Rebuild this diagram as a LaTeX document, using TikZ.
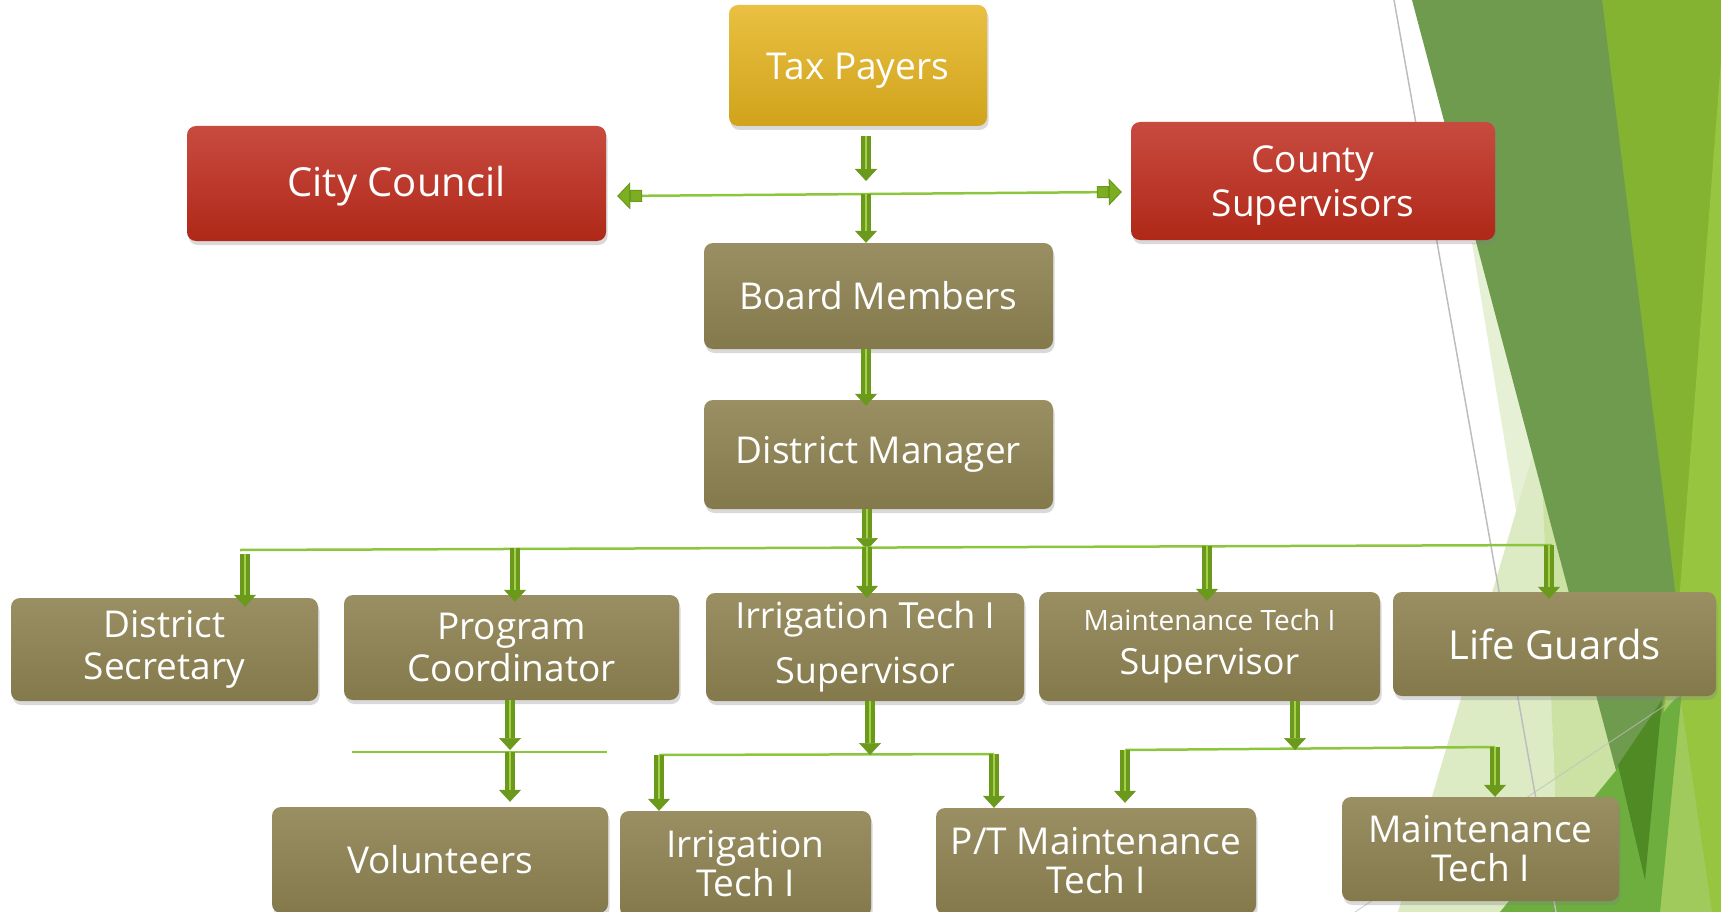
\documentclass[tikz,border=0pt]{standalone}
\usepackage{fontspec}
\setmainfont{Open Sans}
\usetikzlibrary{arrows.meta, shadows, calc}

\definecolor{olivetop}{HTML}{9A8F63}
\definecolor{olivebot}{HTML}{83794B}
\definecolor{redtop}{HTML}{C84B40}
\definecolor{redbot}{HTML}{AF2818}
\definecolor{goldtop}{HTML}{E9C042}
\definecolor{goldbot}{HTML}{D1A31B}
\definecolor{flowdark}{HTML}{6A991C}
\definecolor{flowmid}{HTML}{7DAE22}
\definecolor{flowlight}{HTML}{A6D04A}
\definecolor{linegreen}{HTML}{8CC63F}
\definecolor{facetlime}{HTML}{84B332}
\definecolor{facetlight}{HTML}{98C53F}
\definecolor{facetdark}{HTML}{6F9B4F}
\definecolor{facetpale}{HTML}{E6F0D5}
\definecolor{facetsoft}{HTML}{DDEBC5}
\definecolor{facetmid}{HTML}{CCE2A4}
\definecolor{facetbright}{HTML}{6DAE3F}
\definecolor{facetdeep}{HTML}{4F8A25}
\definecolor{facetlime2}{HTML}{A0CB5C}
\definecolor{facetgrey}{HTML}{BDBDBD}

\newcommand{\lowstrut}{\rule{0pt}{36pt}}

\tikzset{
  box/.style={rounded corners=9pt, text=white, align=center, inner sep=2pt,
    font=\fontsize{37}{44}\selectfont, top color=olivetop, bottom color=olivebot,
    drop shadow={shadow xshift=1.5pt, shadow yshift=-4pt, opacity=.3}},
  redbox/.style={box, top color=redtop, bottom color=redbot},
  goldbox/.style={box, top color=goldtop, bottom color=goldbot},
  flow/.style={draw=flowdark, line width=10pt,
    -{Triangle[width=22pt, length=12pt, line width=0.5pt]},
    postaction={draw=flowlight, line width=2.5pt, shorten >=12pt, -}},
  link/.style={draw=linegreen, line width=2.5pt},
  sidetips/.style={
    {Triangle[width=27pt, length=13pt, color=flowdark, fill=flowmid, line width=1pt]
     Rectangle[width=12pt, length=12pt, color=flowdark, fill=flowmid, line width=1pt]}-{Rectangle[width=12pt, length=12pt, color=flowdark, fill=flowmid, line width=1pt]
     Triangle[width=27pt, length=13pt, color=flowdark, fill=flowmid, line width=1pt]}},
}

\begin{document}
\begin{tikzpicture}[x=1pt, y=-1pt]
\useasboundingbox (0,0) rectangle (1721,912);

% facet background
\fill[facetlime] (1595,0) -- (1721,0) -- (1721,912) -- (1600,912) -- cycle;
\fill[facetlight] (1721,60) -- (1721,912) -- (1655,912) -- cycle;
\fill[facetpale] (1472,243) -- (1582,912) -- (1650,912) -- (1500,243) -- cycle;
\fill[facetsoft] (1540,430) -- (1398,912) -- (1560,912) -- cycle;
\fill[facetmid] (1540,430) -- (1560,912) -- (1650,912) -- (1640,700) -- cycle;
\fill[facetdark] (1412,0) -- (1602,0) -- (1675,590) -- (1645,880) -- cycle;
\fill[facetlime2] (1672,640) -- (1645,880) -- (1640,912) -- (1712,912) -- cycle;
\fill[facetbright] (1682,690) -- (1500,912) -- (1660,912) -- cycle;
\fill[facetdeep] (1662,700) -- (1618,765) -- (1645,880) -- cycle;
\draw[facetgrey, line width=1.5pt] (1394,0) -- (1556,912);
\draw[facetgrey, line width=1pt, opacity=.7] (1355,912) -- (1700,682);

% top
\node[goldbox, minimum width=258pt, minimum height=121pt] (tax) at (858,65.5) {\lowstrut Tax Payers};
\node[redbox, minimum width=419pt, minimum height=115pt, font=\fontsize{40}{46}\selectfont] (city) at (396.5,183.5) {\lowstrut City Council};
\node[redbox, minimum width=364pt, minimum height=118pt] (county) at (1313,181) {\lowstrut County\\Supervisors};
\node[box, minimum width=349pt, minimum height=106pt] (board) at (878.5,296) {Board Members};
\node[box, minimum width=349pt, minimum height=109pt] (manager) at (878.5,454.5) {District Manager};

% second row
\node[box, minimum width=307pt, minimum height=103pt, font=\fontsize{37}{42}\selectfont] (secretary) at (164.5,649.5) {District\\Secretary};
\node[box, minimum width=335pt, minimum height=105pt, font=\fontsize{37}{42}\selectfont] (program) at (511.5,647.5) {Program\\Coordinator};
\node[box, minimum width=318pt, minimum height=108pt, font=\fontsize{36}{55}\selectfont] (irrsup) at (865,647) {Irrigation Tech I\\Supervisor};
\node[box, minimum width=341pt, minimum height=109pt, font=\fontsize{36}{44}\selectfont] (maintsup) at (1209.5,646.5) {{\fontsize{28}{30}\selectfont Maintenance Tech I}\\Supervisor};
\node[box, minimum width=323pt, minimum height=104pt, font=\fontsize{40}{46}\selectfont] (guards) at (1554.5,644) {Life Guards};

% third row
\node[box, minimum width=336pt, minimum height=106pt] (volunteers) at (440,860) {Volunteers};
\node[box, minimum width=251pt, minimum height=106pt, font=\fontsize{37}{39}\selectfont] (irrtech) at (745.5,864) {Irrigation\\Tech I};
\node[box, minimum width=320pt, minimum height=106pt, font=\fontsize{37}{39}\selectfont] (ptmaint) at (1096,861) {P/T Maintenance\\Tech I};
\node[box, minimum width=277pt, minimum height=104pt, font=\fontsize{37}{39}\selectfont] (maint) at (1480.5,849) {Maintenance\\Tech I};

% junctions
\coordinate (j0) at (866,194);
\coordinate (j1) at (867,547);
\coordinate (b0) at (240,550);
\coordinate (b1) at (1552,545);
\coordinate (s1) at (245,554);
\coordinate (s2) at (515,548);
\coordinate (s4) at (1207,546);
\coordinate (s5) at (1549,545);
\coordinate (p0) at (510,752);
\coordinate (pl) at (352,752);
\coordinate (pr) at (607,752);
\coordinate (i0) at (870,755);
\coordinate (il) at (659,755);
\coordinate (ir) at (994,754);
\coordinate (m0) at (1295,750);
\coordinate (ml) at (1125,750);
\coordinate (mr) at (1495,747);

% council line
\draw[link, sidetips] ($(city.east)+(11,12.5)$) -- ($(county.west)+(-9,11)$);
\draw[flow] ($(tax.south -| j0)+(0,10)$) -- ($(j0)+(0,-13)$);
\draw[flow] (j0) -- (board.north -| j0);
\draw[flow] (board.south -| j0) -- ($(manager.north -| j0)+(0,6)$);
\draw[flow] (manager.south -| j1) -- ($(j1)+(0,3)$);

% to second row
\draw[link] (b0) -- (b1);
\draw[flow] (s1) -- ($(secretary.north -| s1)+(0,9)$);
\draw[flow] (s2) -- ($(program.north -| s2)+(0,7)$);
\draw[flow] (j1) -- ($(irrsup.north -| j1)+(0,5)$);
\draw[flow] (s4) -- ($(maintsup.north -| s4)+(0,9)$);
\draw[flow] (s5) -- ($(guards.north -| s5)+(0,7)$);

% to third row
\draw[link] (pl) -- (pr);
\draw[flow] (program.south -| p0) -- ($(p0)+(0,-2)$);
\draw[flow] (p0) -- ($(volunteers.north -| p0)+(0,-5)$);
\draw[link] (il) -- (ir);
\draw[flow] (irrsup.south -| i0) -- (i0);
\draw[flow] (il) -- (irrtech.north -| il);
\draw[flow] (ir) -- (ptmaint.north -| ir);
\draw[link] (ml) -- (mr);
\draw[flow] (maintsup.south -| m0) -- (m0);
\draw[flow] (ml) -- ($(ptmaint.north -| ml)+(0,-5)$);
\draw[flow] (mr) -- (maint.north -| mr);
\end{tikzpicture}
\end{document}
